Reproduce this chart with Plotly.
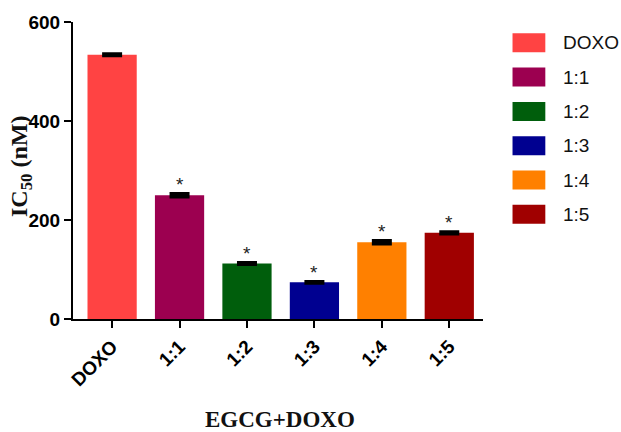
import plotly.graph_objects as go

categories = ["DOXO", "1:1", "1:2", "1:3", "1:4", "1:5"]
ic50 = [534, 250, 112, 74, 155, 174]
err = [1.5, 3, 1.5, 1.5, 3, 2]
significant = [False, True, True, True, True, True]
colors = ["#FF4343", "#9C0050", "#005E0C", "#000090", "#FF8000", "#A00000"]

fig = go.Figure()
for i, c in enumerate(categories):
    fig.add_trace(go.Bar(
        x=[c], y=[ic50[i]], marker=dict(color=colors[i], line=dict(width=0)),
        width=0.73, name=c, showlegend=False,
        error_y=dict(type="data", array=[err[i]], color="black", thickness=3.5, width=10),
    ))
    if significant[i]:
        fig.add_annotation(x=c, y=ic50[i] + err[i], text="*", showarrow=False,
                           yanchor="bottom", yshift=-3,
                           font=dict(family="Arial", size=19, color="#222"))

# manual legend (large swatches)
for i, c in enumerate(categories):
    y0 = 0.93 - i * 0.1155
    fig.add_shape(type="rect", xref="paper", yref="paper",
                  x0=1.072, x1=1.152, y0=y0 - 0.032, y1=y0 + 0.032,
                  fillcolor=colors[i], line=dict(width=0))
    fig.add_annotation(xref="paper", yref="paper", x=1.19, y=y0, text=c,
                       showarrow=False, xanchor="left", yanchor="middle",
                       font=dict(family="Arial", size=19, color="#111"))

title_font = dict(family="Times New Roman, Liberation Serif", color="#111", weight="bold")
fig.add_annotation(xref="paper", yref="paper", x=0.505, y=-0.34, text="EGCG+DOXO",
                   showarrow=False, xanchor="center", yanchor="middle",
                   font=dict(size=23, **title_font))
fig.add_annotation(xref="paper", yref="paper", x=-0.127, y=0.515, text="IC<sub>50</sub> (nM)",
                   showarrow=False, xanchor="center", yanchor="middle", textangle=-90,
                   font=dict(size=24, **title_font))

fig.update_layout(
    width=621, height=432,
    margin=dict(l=73, r=138, t=22, b=113),
    paper_bgcolor="white", plot_bgcolor="white",
    xaxis=dict(
        range=[-0.58, 5.5], showline=True, linecolor="black", linewidth=2,
        ticks="outside", ticklen=7, tickwidth=2, tickcolor="black",
        tickangle=-45, tickfont=dict(family="Arial", size=19, color="black", weight="bold"),
        showgrid=False, zeroline=False, automargin=False,
    ),
    yaxis=dict(
        range=[0, 600], tickvals=[0, 200, 400, 600], showline=True, linecolor="black", linewidth=2,
        ticks="outside", ticklen=7, tickwidth=2, tickcolor="black",
        tickfont=dict(family="Arial", size=19, color="black", weight="bold"),
        showgrid=False, zeroline=False, automargin=False,
    ),
)

fig.write_html("out.html")
